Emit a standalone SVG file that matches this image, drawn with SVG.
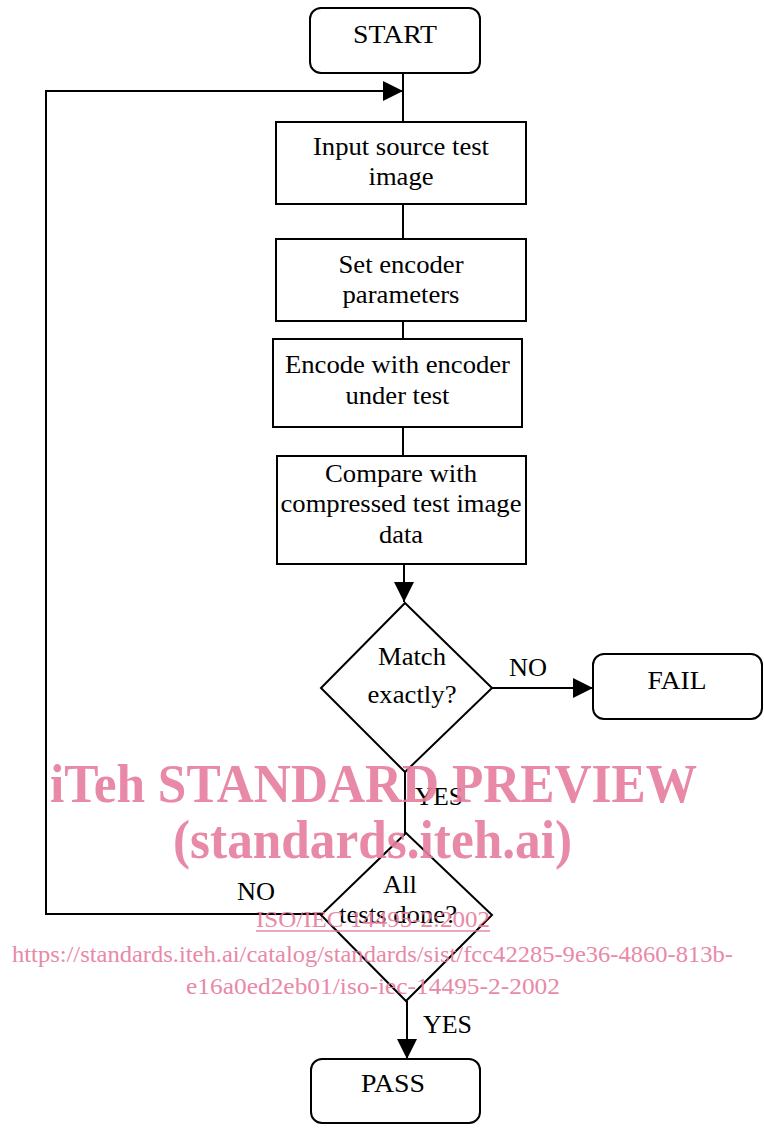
<svg xmlns="http://www.w3.org/2000/svg" width="764" height="1129" viewBox="0 0 764 1129">
<style>
.s{fill:none;stroke:#000;stroke-width:2}
.t{font-family:"Liberation Serif","Times New Roman",serif;font-size:25px;fill:#000;text-anchor:middle}
.l{font-family:"Liberation Serif","Times New Roman",serif;font-size:25px;fill:#000}
.c{fill:none;stroke:#000;stroke-width:2}
.wm{font-family:"Liberation Serif","Times New Roman",serif;fill:#e67d9e;opacity:0.9}
</style>
<defs>
<marker id="ah" markerWidth="20" markerHeight="20" refX="20" refY="10" orient="auto" markerUnits="userSpaceOnUse">
<path d="M0,0 L20,10 L0,20 z" fill="#000"/>
</marker>
</defs>
<rect width="764" height="1129" fill="#fff"/>
<g id="connectors">
<line class="c" x1="403" y1="73" x2="403" y2="122"/>
<path class="c" d="M321,914 L46,914 L46,91 L403,91" marker-end="url(#ah)"/>
<line class="c" x1="403" y1="204" x2="403" y2="239"/>
<line class="c" x1="403" y1="321" x2="403" y2="339"/>
<line class="c" x1="403" y1="427" x2="403" y2="456"/>
<line class="c" x1="404" y1="564" x2="404" y2="602" marker-end="url(#ah)"/>
<line class="c" x1="492" y1="688" x2="593" y2="688" marker-end="url(#ah)"/>
<line class="c" x1="405" y1="772" x2="405" y2="833"/>
<line class="c" x1="407" y1="1001" x2="407" y2="1059" marker-end="url(#ah)"/>
<text class="l" x="509" y="676" textLength="38" lengthAdjust="spacingAndGlyphs">NO</text>
<text class="l" x="415" y="805" textLength="48" lengthAdjust="spacingAndGlyphs">YES</text>
<text class="l" x="237" y="900" textLength="38" lengthAdjust="spacingAndGlyphs">NO</text>
<text class="l" x="423" y="1033" textLength="49" lengthAdjust="spacingAndGlyphs">YES</text>
</g>
<g id="start">
<rect class="s" x="310" y="8" width="170" height="65" rx="11"/>
<text class="t" x="395" y="43" textLength="84" lengthAdjust="spacingAndGlyphs">START</text>
</g>
<g id="input">
<rect class="s" x="276" y="122" width="250" height="82"/>
<text class="t" x="401" y="155" textLength="176" lengthAdjust="spacingAndGlyphs">Input source test</text>
<text class="t" x="401" y="185" textLength="65" lengthAdjust="spacingAndGlyphs">image</text>
</g>
<g id="params">
<rect class="s" x="276" y="239" width="250" height="82"/>
<text class="t" x="401" y="273" textLength="125" lengthAdjust="spacingAndGlyphs">Set encoder</text>
<text class="t" x="401" y="303" textLength="117" lengthAdjust="spacingAndGlyphs">parameters</text>
</g>
<g id="encode">
<rect class="s" x="273" y="339" width="249" height="88"/>
<text class="t" x="397.5" y="373" textLength="225" lengthAdjust="spacingAndGlyphs">Encode with encoder</text>
<text class="t" x="397.5" y="404" textLength="104" lengthAdjust="spacingAndGlyphs">under test</text>
</g>
<g id="compare">
<rect class="s" x="277" y="456" width="249" height="108"/>
<text class="t" x="401" y="482" textLength="152" lengthAdjust="spacingAndGlyphs">Compare with</text>
<text class="t" x="401" y="512" textLength="241" lengthAdjust="spacingAndGlyphs">compressed test image</text>
<text class="t" x="401" y="543" textLength="44" lengthAdjust="spacingAndGlyphs">data</text>
</g>
<g id="match">
<polygon class="s" points="405,603 492,688 405,772 321,688"/>
<text class="t" x="412" y="665" textLength="68" lengthAdjust="spacingAndGlyphs">Match</text>
<text class="t" x="412" y="703" textLength="89" lengthAdjust="spacingAndGlyphs">exactly?</text>
</g>
<g id="fail">
<rect class="s" x="593" y="654" width="169" height="65" rx="11"/>
<text class="t" x="677" y="689" textLength="59" lengthAdjust="spacingAndGlyphs">FAIL</text>
</g>
<g id="alldone">
<polygon class="s" points="406,833 492,915 406,1001 321,915"/>
<text class="t" x="400" y="893" textLength="34" lengthAdjust="spacingAndGlyphs">All</text>
<text class="t" x="398" y="923" textLength="118" lengthAdjust="spacingAndGlyphs">tests done?</text>
</g>
<g id="pass">
<rect class="s" x="311" y="1059" width="169" height="64" rx="11"/>
<text class="t" x="393" y="1092" textLength="64" lengthAdjust="spacingAndGlyphs">PASS</text>
</g>
<g id="watermark">
<text class="wm" x="50" y="802" font-size="54" font-weight="bold" textLength="647" lengthAdjust="spacingAndGlyphs">iTeh STANDARD PREVIEW</text>
<text class="wm" x="173" y="858" font-size="54" font-weight="bold" textLength="399" lengthAdjust="spacingAndGlyphs">(standards.iteh.ai)</text>
<text class="wm" x="256" y="927" font-size="24" textLength="234" lengthAdjust="spacingAndGlyphs">ISO/IEC 14495-2:2002</text>
<line x1="256" y1="931" x2="490" y2="931" stroke="#e67d9e" stroke-width="1.5" opacity="0.9"/>
<text class="wm" x="12" y="962" font-size="24" textLength="721" lengthAdjust="spacingAndGlyphs">https://standards.iteh.ai/catalog/standards/sist/fcc42285-9e36-4860-813b-</text>
<text class="wm" x="186" y="994" font-size="24" textLength="374" lengthAdjust="spacingAndGlyphs">e16a0ed2eb01/iso-iec-14495-2-2002</text>
</g>
</svg>
